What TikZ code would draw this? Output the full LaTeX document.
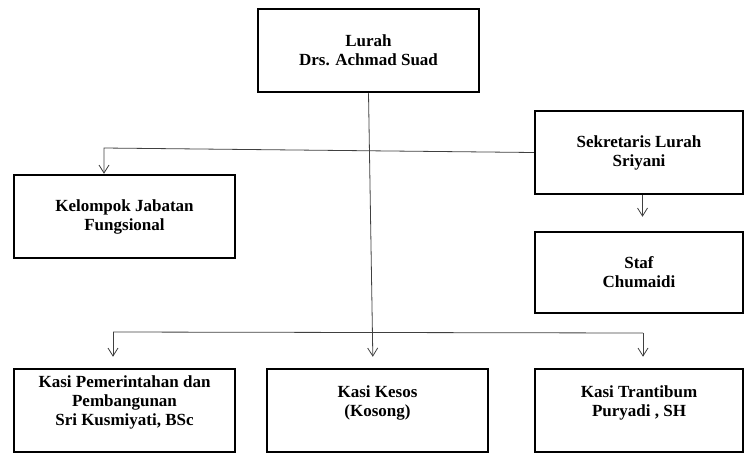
\documentclass[tikz,border=0pt]{standalone}
\usepackage{fontspec}
\setmainfont{Liberation Serif}
\usetikzlibrary{arrows.meta}

\begin{document}
\begin{tikzpicture}[x=1pt, y=-1pt,
    unit/.style={draw, line width=2.5pt, minimum width=221pt, minimum height=83pt,
      align=center, font=\fontsize{17}{19}\selectfont\bfseries},
    conn/.style={black!75, line width=0.8pt},
    arr/.style={conn, -{Straight Barb[length=8pt,width=10pt]}}]
  \useasboundingbox (0,0) rectangle (746,453);

  \node[unit] (lurah) at (368.5,50.5) {Lurah\\Drs. Achmad Suad};
  \node[unit] (kjf) at (124.5,216.5) {Kelompok Jabatan\\Fungsional};
  \node[unit, minimum width=208pt] (sekl) at (639,152.5) {Sekretaris Lurah\\Sriyani};
  \node[unit, minimum width=208pt, minimum height=81pt] (staf) at (639,272.5) {Staf\\Chumaidi};
  \node[unit] (kpp) at (124.5,410.5) {Kasi Pemerintahan dan\\Pembangunan\\Sri Kusmiyati, BSc\\\mbox{}};
  \node[unit] (kesos) at (377.5,410.5) {Kasi Kesos\\(Kosong)\\\mbox{}};
  \node[unit, minimum width=208pt] (trantib) at (639,410.5) {Kasi Trantibum\\Puryadi , SH\\\mbox{}};

  \coordinate (kjturn) at (104,148);
  \coordinate (leftend) at (113,332);
  \coordinate (rightend) at (643,333);

  \draw[arr, shorten >=11pt] (lurah.south) -- ([xshift=-4.5pt]kesos.north);
  \draw[arr] (sekl.west) -- (kjturn) -- (kjturn |- kjf.north);
  \draw[arr, shorten >=14pt] ([xshift=3.5pt]sekl.south) -- ([xshift=3.5pt]staf.north);
  \draw[conn] (leftend) -- (rightend);
  \draw[arr, shorten >=11pt] (leftend) -- (leftend |- kpp.north);
  \draw[arr, shorten >=11pt] (rightend) -- (rightend |- trantib.north);
\end{tikzpicture}
\end{document}
